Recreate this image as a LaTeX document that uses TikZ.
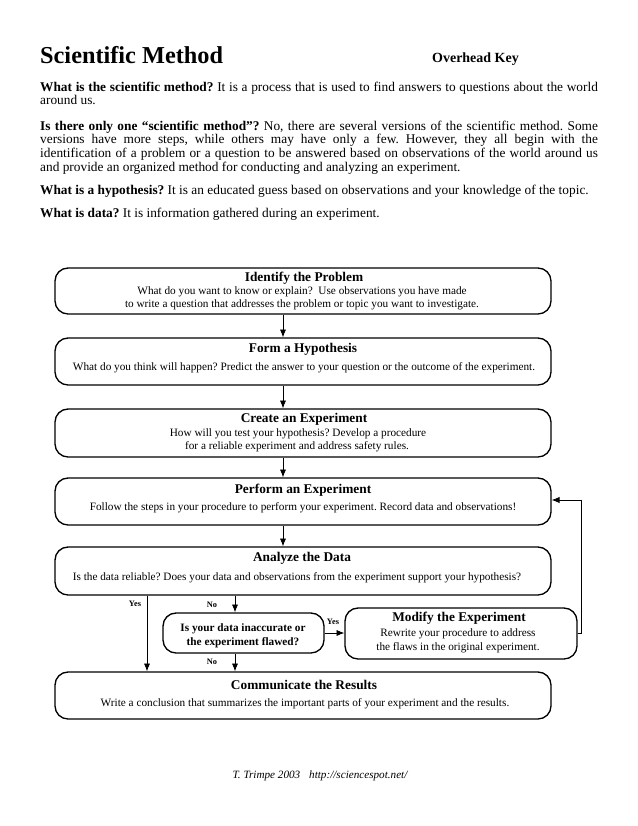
\documentclass[tikz,border=0pt]{standalone}
\usepackage{fontspec}
\setmainfont{Liberation Serif}
\usetikzlibrary{arrows.meta,fit}
\frenchspacing
\begin{document}
\begin{tikzpicture}[x=0.9592pt,y=-0.9592pt,
  box/.style={draw, line width=1.3pt, rounded corners=12.5pt, inner sep=0pt},
  conn/.style={line width=0.8pt},
  arr/.style={conn, -{Latex[length=7.5pt,width=6pt]}},
  bl/.style={anchor=base west, inner sep=0pt},
  bc/.style={anchor=base, inner sep=0pt},
  ttl/.style={bc, font=\fontsize{12.8}{15}\selectfont\bfseries},
  txt/.style={bc, font=\fontsize{10.8}{13}\selectfont},
  dtxt/.style={bc, font=\fontsize{10.8}{13}\selectfont\bfseries},
  yn/.style={bc, font=\fontsize{8}{9}\selectfont\bfseries},
  body/.style={bl, font=\fontsize{12.8}{15}\selectfont}]
\useasboundingbox (0,0) rectangle (638,826);

% header
\node[bl, font=\fontsize{23.3}{27}\selectfont\bfseries] (title) at (40,63) {Scientific Method};
\node[bl, font=\fontsize{13.4}{15}\selectfont\bfseries] (okey) at (432,62) {Overhead Key};

\node[body] (p1a) at (40,91) {\makebox[535pt][s]{\textbf{What is the scientific method?} It is a process that is used to find answers to questions about the world}};
\node[body] (p1b) at (40,104) {around us.};
\node[body] (p2a) at (40,130) {\makebox[535pt][s]{\textbf{Is there only one “scientific method”?} No, there are several versions of the scientific method. Some}};
\node[body] (p2b) at (40,143) {\makebox[535pt][s]{versions have more steps, while others may have only a few. However, they all begin with the}};
\node[body] (p2c) at (40,157) {\makebox[535pt][s]{identification of a problem or a question to be answered based on observations of the world around us}};
\node[body] (p2d) at (40,171) {and provide an organized method for conducting and analyzing an experiment.};
\node[body] (p3) at (40,194) {\textbf{What is a hypothesis?} It is an educated guess based on observations and your knowledge of the topic.};
\node[body] (p4) at (40,217) {\textbf{What is data?} It is information gathered during an experiment.};

% boxes
\node[box, fit={(55,268) (551,314)}] (b1) {};
\node[ttl] (t1) at (304,281) {Identify the Problem};
\node[txt] (t1a) at (302,294) {What do you want to know or explain?\ \ Use observations you have made};
\node[txt] (t1b) at (302,307) {to write a question that addresses the problem or topic you want to investigate.};

\node[box, fit={(55,338) (551,385)}] (b2) {};
\node[ttl] (t2) at (303,352) {Form a Hypothesis};
\node[txt] (t2a) at (304,370) {What do you think will happen? Predict the answer to your question or the outcome of the experiment.};

\node[box, fit={(55,409) (551,457)}] (b3) {};
\node[ttl] (t3) at (304,422) {Create an Experiment};
\node[txt] (t3a) at (298,436) {How will you test your hypothesis? Develop a procedure};
\node[txt] (t3b) at (297,449) {for a reliable experiment and address safety rules.};

\node[box, fit={(55,478) (551,525)}] (b4) {};
\node[ttl] (t4) at (303,493) {Perform an Experiment};
\node[txt] (t4a) at (303,510) {Follow the steps in your procedure to perform your experiment. Record data and observations!};

\node[box, fit={(55,547) (551,595)}] (b5) {};
\node[ttl] (t5) at (302,561) {Analyze the Data};
\node[txt] (t5a) at (297,580) {Is the data reliable? Does your data and observations from the experiment support your hypothesis?};

\node[box, fit={(163,613) (324,653)}] (dec) {};
\node[dtxt] (d1) at (243,631) {Is your data inaccurate or};
\node[dtxt] (d2) at (243,645) {the experiment flawed?};

\node[box, fit={(345,608) (577,659)}] (mod) {};
\node[ttl] (m1) at (459,621) {Modify the Experiment};
\node[txt] (m2) at (458,636) {Rewrite your procedure to address};
\node[txt] (m3) at (458,650) {the flaws in the original experiment.};

\node[box, fit={(55,672) (551,719)}] (b6) {};
\node[ttl] (t6) at (304,689) {Communicate the Results};
\node[txt] (t6a) at (305,706) {Write a conclusion that summarizes the important parts of your experiment and the results.};

% connectors
\coordinate (ax) at (283,0);
\coordinate (nx) at (235,0);
\coordinate (yx) at (147,0);
\coordinate (fx) at (581,500);
\draw[arr] (b1.south -| ax) -- (b2.north -| ax);
\draw[arr] (b2.south -| ax) -- (b3.north -| ax);
\draw[arr] (b3.south -| ax) -- (b4.north -| ax);
\draw[arr] (b4.south -| ax) -- (b5.north -| ax);
\draw[arr] (b5.south -| nx) -- (dec.north -| nx);
\draw[arr] (dec.south -| nx) -- (b6.north -| nx);
\draw[arr] (b5.south -| yx) -- (b6.north -| yx);
\draw[arr] (dec.east) -- (dec.east -| mod.west);
\draw[arr] (mod.east) -| (fx) -- (fx -| b4.east);

\node[yn] (ly1) at (135,606) {Yes};
\node[yn] (ln1) at (212,607) {No};
\node[yn] (ln2) at (212,664) {No};
\node[yn] (ly2) at (333,624) {Yes};

% footer
\node[bc, font=\fontsize{10.7}{13}\selectfont\itshape] (foot) at (320,778) {T. Trimpe 2003\hspace{0.8em}http://sciencespot.net/};
\end{tikzpicture}
\end{document}
